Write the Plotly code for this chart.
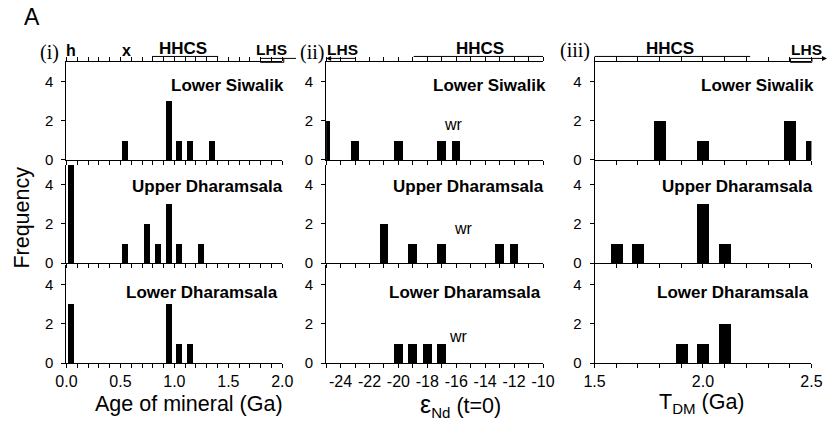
import numpy as np
import plotly.graph_objects as go

W, H = 839, 433

# ---- data: histogram bin centres and counts ----
rows = ["Lower Siwalik", "Upper Dharamsala", "Lower Dharamsala"]

# (i) age of mineral (Ga)
age_ls_x = [0.55, 0.95, 1.05, 1.15, 1.35]
age_ls_n = [1, 3, 1, 1, 1]
age_ud_x = [0.05, 0.55, 0.75, 0.85, 0.95, 1.05, 1.25]
age_ud_n = [5, 1, 2, 1, 3, 1, 1]
age_ld_x = [0.05, 0.95, 1.05, 1.15]
age_ld_n = [3, 3, 1, 1]

# (ii) eps_Nd (t=0)
end_ls_x = [-25, -23, -20, -17, -16]
end_ls_n = [2, 1, 1, 1, 1]
end_ud_x = [-21, -19, -17, -13, -12]
end_ud_n = [2, 1, 1, 1, 1]
end_ld_x = [-20, -19, -18, -17]
end_ld_n = [1, 1, 1, 1]

# (iii) T_DM (Ga)
tdm_ls_x = [1.8, 2.0, 2.4, 2.5]
tdm_ls_n = [2, 1, 2, 1]
tdm_ud_x = [1.6, 1.7, 2.0, 2.1]
tdm_ud_n = [1, 1, 3, 1]
tdm_ld_x = [1.9, 2.0, 2.1]
tdm_ld_n = [1, 1, 2]

# tick labels
age_ticks = [0.0, 0.5, 1.0, 1.5, 2.0]
age_ticktext = ["0.0", "0.5", "1.0", "1.5", "2.0"]
end_ticks = [-24, -22, -20, -18, -16, -14, -12, -10]
end_ticktext = ["-24", "-22", "-20", "-18", "-16", "-14", "-12", "-10"]
tdm_ticks = [1.5, 2.0, 2.5]
tdm_ticktext = ["1.5", "2.0", "2.5"]
freq_ticks = [0, 2, 4]

series = [
    [(age_ls_x, age_ls_n), (end_ls_x, end_ls_n), (tdm_ls_x, tdm_ls_n)],
    [(age_ud_x, age_ud_n), (end_ud_x, end_ud_n), (tdm_ud_x, tdm_ud_n)],
    [(age_ld_x, age_ld_n), (end_ld_x, end_ld_n), (tdm_ld_x, tdm_ld_n)],
]

# column settings: range, minor tick step, bar width, labelled ticks
cols = [
    dict(rng=[0.0, 2.0], step=0.1, bw=0.055, tv=age_ticks, tt=age_ticktext),
    dict(rng=[-25, -10], step=1.0, bw=0.6, tv=end_ticks, tt=end_ticktext),
    dict(rng=[1.5, 2.5], step=0.1, bw=0.055, tv=tdm_ticks, tt=tdm_ticktext),
]

# pixel layout of the grid
col_px = [(57, 279), (324, 547), (600, 823)]
row_px = [(63, 163), (168, 268), (270, 370)]


def px(x):
    return x / W


def py(y):
    return 1 - y / H


SANS = "Arial, Liberation Sans, sans-serif"
SERIF = "Times New Roman, Liberation Serif, serif"

fig = go.Figure()
layout = {}

for r in range(3):
    for c in range(3):
        k = r * 3 + c + 1
        xa = "x" if k == 1 else f"x{k}"
        ya = "y" if k == 1 else f"y{k}"
        cfg = cols[c]
        xs, ns = series[r][c]
        fig.add_trace(go.Bar(
            x=xs, y=ns, width=cfg["bw"], xaxis=xa, yaxis=ya,
            marker=dict(color="black", line=dict(width=0)),
            showlegend=False, hoverinfo="x+y",
        ))
        lo, hi = cfg["rng"]
        vals = np.round(np.arange(lo, hi + cfg["step"] / 2, cfg["step"]), 6)
        text = []
        for v in vals:
            match = [t for tv, t in zip(cfg["tv"], cfg["tt"]) if abs(tv - v) < 1e-6]
            text.append(match[0] if match else "")
        layout["xaxis" if k == 1 else f"xaxis{k}"] = dict(
            domain=[px(col_px[c][0]), px(col_px[c][1])],
            anchor=ya, range=cfg["rng"],
            tickmode="array", tickvals=vals, ticktext=text,
            showticklabels=(r == 2),
            ticks="outside", ticklen=4, tickwidth=1, tickcolor="black",
            showline=True, linecolor="black", linewidth=1,
            mirror="ticks" if r == 0 else False,
            showgrid=False, zeroline=False,
            tickfont=dict(family=SANS, size=16, color="black"),
            fixedrange=True,
        )
        layout["yaxis" if k == 1 else f"yaxis{k}"] = dict(
            domain=[py(row_px[r][1]), py(row_px[r][0])],
            anchor=xa, range=[0, 5],
            tickmode="array", tickvals=freq_ticks,
            ticks="outside", ticklen=4, tickwidth=1, tickcolor="black",
            ticklabelstandoff=5,
            showline=True, linecolor="black", linewidth=1,
            showgrid=False, zeroline=False,
            tickfont=dict(family=SANS, size=15, color="black"),
            fixedrange=True,
        )

annotations = []


def note(text, x, y, size=16, family=SANS, xanchor="center", yanchor="middle", **kw):
    annotations.append(dict(
        text=text, x=px(x), y=py(y), xref="paper", yref="paper",
        xanchor=xanchor, yanchor=yanchor, showarrow=False,
        font=dict(family=family, size=size, color="black"), **kw))


# row labels inside each panel
label_y = [87, 190, 298]
label_right = [[283, 552, 828], [282, 550, 827], [277, 547, 823]]
for r in range(3):
    for c in range(3):
        note(f"<b>{rows[r]}</b>", label_right[r][c], label_y[r], size=17,
             xanchor="right")

# whole-rock markers in the eps_Nd column
note("wr", 455, 127, size=16)
note("wr", 465, 233, size=16)
note("wr", 460, 343, size=16)

# figure letter, panel numerals, axis titles
note("A", 11, 17, size=23, xanchor="left")
note("(i)", 40, 53, size=20, family=SERIF)
note("(ii)", 309, 53, size=20, family=SERIF)
note("(iii)", 580, 51, size=20, family=SERIF)
note("Age of mineral (Ga)", 183, 412, size=21.5)
note("<span style='font-size:25px'>ε</span><sub>Nd</sub> (t=0)", 462, 413, size=21.5)
note("T<sub>DM</sub> (Ga)", 710, 411, size=21.5)
note("Frequency", 11, 222, size=21.5, textangle=-90)

# source-region tags above the top axes
note("<b>h</b>", 62, 51, size=16)
note("<b>x</b>", 119, 51, size=16)
note("<b>HHCS</b>", 177, 49, size=17)
note("<b>LHS</b>", 268, 50, size=15.5)
note("<b>LHS</b>", 341, 50, size=15.5)
note("<b>HHCS</b>", 482, 49, size=17)
note("<b>HHCS</b>", 678, 49, size=17)
note("<b>LHS</b>", 818, 50, size=15.5)

# arrows for LHS ranges running off the axes
for head, tail in [((324, 59.5), (355, 59.5)), ((839, 59.5), (822, 59.5))]:
    annotations.append(dict(
        x=px(head[0]), y=py(head[1]), xref="paper", yref="paper",
        ax=tail[0] - head[0], ay=tail[1] - head[1], text="",
        showarrow=True, arrowhead=2, arrowsize=1, arrowwidth=1,
        arrowcolor="black"))

shapes = []


def hline(x0, x1, y):
    shapes.append(dict(type="line", xref="paper", yref="paper",
                       x0=px(x0), x1=px(x1), y0=py(y), y1=py(y),
                       line=dict(color="black", width=1)))


def box(x0, x1, y0, y1):
    shapes.append(dict(type="rect", xref="paper", yref="paper",
                       x0=px(x0), x1=px(x1), y0=py(y1), y1=py(y0),
                       line=dict(color="black", width=1)))


hline(145, 213, 57.5)
hline(414, 547, 57.5)
hline(600, 760, 57.5)
box(256.5, 280.5, 59.5, 63.5)
hline(280, 293, 59.5)
box(801.5, 823.5, 59.5, 63.5)

layout.update(dict(
    width=W, height=H,
    margin=dict(l=0, r=0, t=0, b=0),
    paper_bgcolor="white", plot_bgcolor="white",
    bargap=0, showlegend=False,
    annotations=annotations, shapes=shapes,
    font=dict(family=SANS, color="black"),
))
fig.update_layout(**layout)
fig.write_html("out.html", config=dict(displayModeBar=False))
